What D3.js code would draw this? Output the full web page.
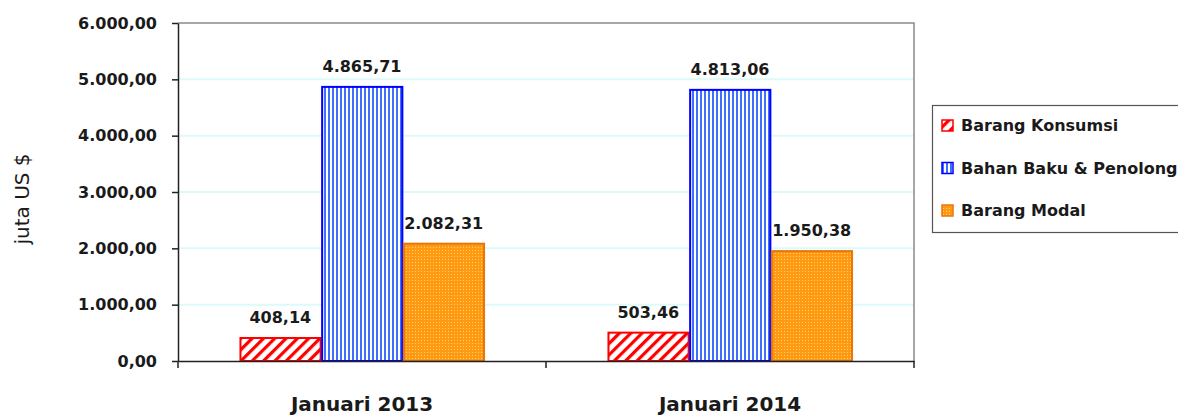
<!DOCTYPE html>
<html>
<head>
<meta charset="utf-8">
<script src="https://cdn.jsdelivr.net/npm/d3@7"></script>
<style>
  body { margin: 0; background: #fff; }
  svg { display: block; font-family: "DejaVu Sans", sans-serif; }
</style>
</head>
<body>
<div id="chart"></div>
<script>
// data
var categories = ["Januari 2013", "Januari 2014"];
var seriesNames = ["Barang Konsumsi", "Bahan Baku & Penolong", "Barang Modal"];
var konsumsi = [408.14, 503.46];
var bahanBaku = [4865.71, 4813.06];
var modal = [2082.31, 1950.38];
var yTicks = [0, 1000, 2000, 3000, 4000, 5000, 6000];
var yTitle = "juta US $";

var W = 1178, H = 416;
var plot = {left: 178, right: 914, top: 23, bottom: 361};

var idFmt = d3.formatLocale({decimal: ",", thousands: ".", grouping: [3], currency: ["", ""]}).format(",.2f");

var svg = d3.select("#chart").append("svg")
    .attr("width", W)
    .attr("height", H);

// fill patterns
var defs = svg.append("defs");

var pRed = defs.append("pattern")
    .attr("id", "hatchRed")
    .attr("patternUnits", "userSpaceOnUse")
    .attr("width", 8).attr("height", 8)
    .attr("patternTransform", "rotate(45)");
pRed.append("rect").attr("width", 8).attr("height", 8).attr("fill", "#fff");
pRed.append("rect").attr("x", 0).attr("width", 3.2).attr("height", 8).attr("fill", "#ff0000");

var pBlue = defs.append("pattern")
    .attr("id", "stripeBlue")
    .attr("patternUnits", "userSpaceOnUse")
    .attr("width", 4).attr("height", 4);
pBlue.append("rect").attr("width", 4).attr("height", 4).attr("fill", "#fff");
pBlue.append("rect").attr("x", 0).attr("width", 2).attr("height", 4).attr("fill", "#3f6fff");

var pOrange = defs.append("pattern")
    .attr("id", "dotOrange")
    .attr("patternUnits", "userSpaceOnUse")
    .attr("width", 3).attr("height", 3);
pOrange.append("rect").attr("width", 3).attr("height", 3).attr("fill", "#ff9a10");
pOrange.append("rect").attr("x", 1).attr("y", 1).attr("width", 1).attr("height", 1).attr("fill", "#ffd27a");

var fills = ["url(#hatchRed)", "url(#stripeBlue)", "url(#dotOrange)"];
var strokes = ["#ff0000", "#0000ff", "#e8740c"];

var x0 = d3.scaleBand()
    .domain(categories)
    .range([plot.left, plot.right])
    .paddingInner(0.334)
    .paddingOuter(0.167);

var x1 = d3.scaleBand()
    .domain(seriesNames)
    .range([0, x0.bandwidth()]);

var y = d3.scaleLinear()
    .domain([0, 6000])
    .range([plot.bottom, plot.top]);

// gridlines
svg.append("g")
  .selectAll("line")
  .data(yTicks.slice(1, -1))
  .enter()
  .append("line")
    .attr("x1", plot.left)
    .attr("x2", plot.right)
    .attr("y1", function(d) { return y(d); })
    .attr("y2", function(d) { return y(d); })
    .attr("stroke", "#dcfafa")
    .attr("stroke-width", 2);

// frame: top + right in grey
svg.append("path")
    .attr("d", "M" + plot.left + "," + plot.top + "H" + plot.right + "V" + plot.bottom)
    .attr("fill", "none")
    .attr("stroke", "#8a8a8a")
    .attr("stroke-width", 1.5);

// bars
var rows = seriesNames.map(function(name, i) {
  var vals = [konsumsi, bahanBaku, modal][i];
  return categories.map(function(c, j) { return {series: name, si: i, cat: c, value: vals[j]}; });
});

var barG = svg.append("g");
rows.forEach(function(row) {
  barG.selectAll(null)
    .data(row)
    .enter()
    .append("rect")
      .attr("x", function(d) { return x0(d.cat) + x1(d.series) + 1; })
      .attr("y", function(d) { return y(d.value); })
      .attr("width", x1.bandwidth() - 1.5)
      .attr("height", function(d) { return y(0) - y(d.value); })
      .attr("fill", function(d) { return fills[d.si]; })
      .attr("stroke", function(d) { return strokes[d.si]; })
      .attr("stroke-width", 2);

  barG.selectAll(null)
    .data(row)
    .enter()
    .append("text")
      .attr("x", function(d) { return x0(d.cat) + x1(d.series) + x1.bandwidth() / 2; })
      .attr("y", function(d) { return y(d.value) - 15; })
      .attr("text-anchor", "middle")
      .attr("font-size", 16)
      .attr("font-weight", "bold")
      .attr("fill", "#1a1a1a")
      .text(function(d) { return idFmt(d.value); });
});

// y axis
var yAxis = svg.append("g")
    .attr("transform", "translate(" + plot.left + ",0)")
    .call(d3.axisLeft(y).tickValues(yTicks).tickFormat(idFmt).tickSizeInner(6).tickSizeOuter(0).tickPadding(15));
yAxis.select(".domain").attr("stroke", "#222").attr("stroke-width", 1.5);
yAxis.selectAll(".tick line").attr("stroke", "#222").attr("stroke-width", 1.5);
yAxis.selectAll(".tick text")
    .attr("font-family", "DejaVu Sans, sans-serif")
    .attr("font-size", 16)
    .attr("font-weight", "bold")
    .attr("fill", "#1a1a1a");

// x axis
var xAxis = svg.append("g")
    .attr("transform", "translate(0," + plot.bottom + ")")
    .call(d3.axisBottom(x0).tickSize(0).tickPadding(36));
xAxis.select(".domain").attr("stroke", "#222").attr("stroke-width", 1.5);
xAxis.selectAll(".tick text")
    .attr("font-family", "DejaVu Sans, sans-serif")
    .attr("font-size", 20)
    .attr("font-weight", "bold")
    .attr("fill", "#1a1a1a");

// category separator ticks
var sepX = [plot.left].concat(categories.map(function(c) { return x0(c) + x0.bandwidth() + x0.step() * x0.paddingInner() / 2; }));
svg.append("g")
  .selectAll("line")
  .data(sepX)
  .enter()
  .append("line")
    .attr("x1", function(d) { return d; })
    .attr("x2", function(d) { return d; })
    .attr("y1", plot.bottom)
    .attr("y2", plot.bottom + 7)
    .attr("stroke", "#222")
    .attr("stroke-width", 1.5);

// y title
svg.append("text")
    .attr("transform", "translate(29," + ((plot.top + plot.bottom) / 2 + 7) + ") rotate(-90)")
    .attr("text-anchor", "middle")
    .attr("font-size", 20)
    .attr("fill", "#1a1a1a")
    .text(yTitle);

// legend
var legend = svg.append("g").attr("transform", "translate(932,105)");
legend.append("rect")
    .attr("x", 0.5).attr("y", 0.5)
    .attr("width", 260).attr("height", 127)
    .attr("fill", "#fff")
    .attr("stroke", "#555")
    .attr("stroke-width", 1.2);

var item = legend.selectAll("g.item")
  .data(seriesNames)
  .enter()
  .append("g")
    .attr("class", "item")
    .attr("transform", function(d, i) { return "translate(10," + (20 + i * 42.5) + ")"; });

item.append("rect")
    .attr("x", 0).attr("y", -5)
    .attr("width", 11).attr("height", 11)
    .attr("fill", function(d, i) { return fills[i]; })
    .attr("stroke", function(d, i) { return strokes[i]; })
    .attr("stroke-width", 1.5);

item.append("text")
    .attr("x", 19)
    .attr("y", 6)
    .attr("font-size", 16)
    .attr("font-weight", "bold")
    .attr("fill", "#1a1a1a")
    .text(function(d) { return d; });
</script>
</body>
</html>
